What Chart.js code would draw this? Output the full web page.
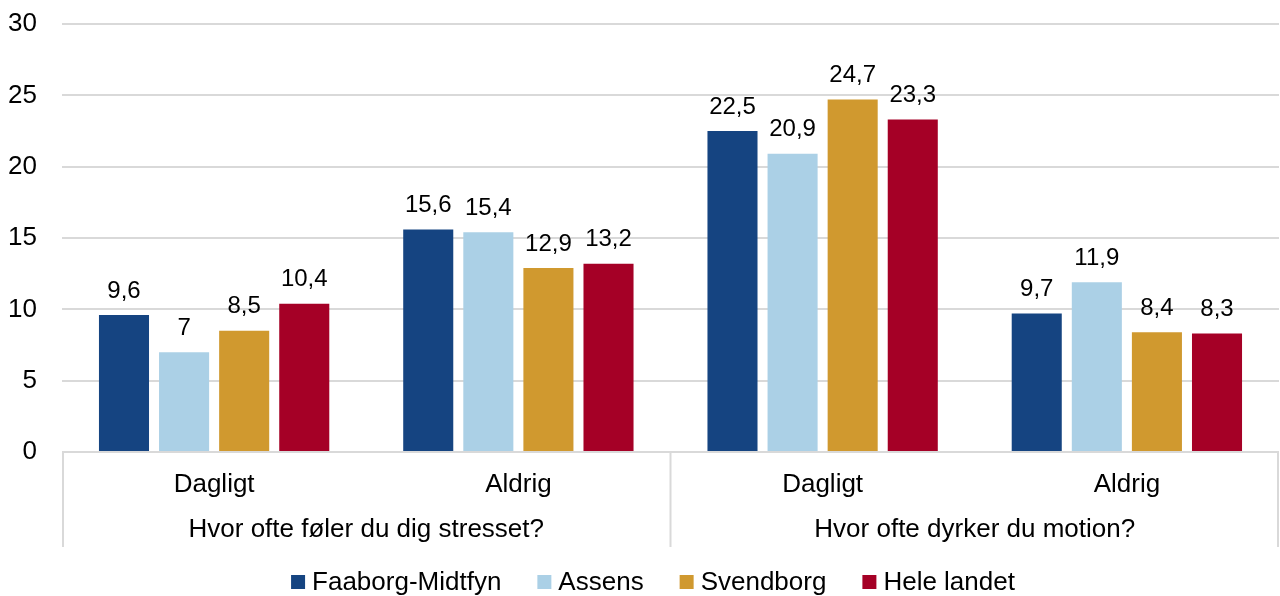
<!DOCTYPE html>
<html>
<head>
<meta charset="utf-8">
<script src="https://cdn.jsdelivr.net/npm/chart.js@4"></script>
<style>
  html, body { margin: 0; padding: 0; background: #fff; }
  #wrap { width: 1280px; height: 596px; }
</style>
</head>
<body>
<div id="wrap"><canvas id="chart" width="1280" height="596"></canvas></div>
<script>
// ---- data
const categories = ['Dagligt', 'Aldrig', 'Dagligt', 'Aldrig'];
const groupLabels = ['Hvor ofte føler du dig stresset?', 'Hvor ofte dyrker du motion?'];
const seriesNames = ['Faaborg-Midtfyn', 'Assens', 'Svendborg', 'Hele landet'];
const faaborg = [9.6, 15.6, 22.5, 9.7];
const assens = [7, 15.4, 20.9, 11.9];
const svendborg = [8.5, 12.9, 24.7, 8.4];
const heleLandet = [10.4, 13.2, 23.3, 8.3];
const yTicks = [0, 5, 10, 15, 20, 25, 30];

const colors = ['#154481', '#abd0e6', '#d0992f', '#a50026'];
const FONT = "'Liberation Sans', Arial, sans-serif";
const lineCol = '#d9d9d9';

// labels above bars, two-level category axis, legend
const extras = {
    id: 'extras',
    afterDatasetsDraw(chart) {
        const ctx = chart.ctx;
        ctx.save();
        ctx.font = '24px ' + FONT;
        ctx.fillStyle = '#000';
        ctx.textAlign = 'center';
        ctx.textBaseline = 'middle';
        chart.data.datasets.forEach((ds, i) => {
            chart.getDatasetMeta(i).data.forEach((bar, j) => {
                let txt = String(ds.data[j]).replace('.', ',');
                ctx.fillText(txt, bar.x, bar.y - 24);
            });
        });
        ctx.restore();
    },
    afterDraw(chart) {
        const ctx = chart.ctx;
        const area = chart.chartArea;
        const x = chart.scales.x;
        const y0 = area.bottom;
        ctx.save();
        ctx.strokeStyle = lineCol;
        ctx.lineWidth = 2;
        ctx.beginPath();
        ctx.moveTo(area.left, y0);
        ctx.lineTo(area.right, y0);
        let mid = (x.getPixelForValue(1) + x.getPixelForValue(2)) / 2;
        [area.left + 1, mid, area.right - 1].forEach(px => {
            ctx.moveTo(px, y0);
            ctx.lineTo(px, y0 + 95);
        });
        ctx.stroke();

        ctx.fillStyle = '#000';
        ctx.font = '26px ' + FONT;
        ctx.textAlign = 'center';
        ctx.textBaseline = 'middle';
        categories.forEach((c, i) => {
            ctx.fillText(c, x.getPixelForValue(i), y0 + 33);
        });
        ctx.fillText(groupLabels[0], (area.left + mid) / 2, y0 + 78);
        ctx.fillText(groupLabels[1], (mid + area.right) / 2, y0 + 78);

        // legend, Excel style spacing
        const box = 14, gapText = 7, gapItem = 36;
        let widths = seriesNames.map(s => box + gapText + ctx.measureText(s).width);
        let total = widths.reduce((a, b) => a + b, 0) + gapItem * (seriesNames.length - 1);
        let lx = (chart.width - total) / 2 + 13;
        const ly = 582;
        ctx.textAlign = 'left';
        seriesNames.forEach((s, i) => {
            ctx.fillStyle = colors[i];
            ctx.fillRect(lx, ly - box / 2, box, box);
            ctx.fillStyle = '#000';
            ctx.fillText(s, lx + box + gapText, ly + 1);
            lx += widths[i] + gapItem;
        });
        ctx.restore();
    }
};

const allSeries = [faaborg, assens, svendborg, heleLandet];

new Chart(document.getElementById('chart'), {
    type: 'bar',
    data: {
        labels: categories,
        datasets: allSeries.map((d, i) => ({
            label: seriesNames[i],
            data: d,
            backgroundColor: colors[i],
            categoryPercentage: 0.79,
            barPercentage: 0.833
        }))
    },
    options: {
        responsive: false,
        animation: false,
        layout: { padding: { top: 24, right: 1, left: 0, bottom: 36 } },
        scales: {
            x: {
                grid: { display: false },
                border: { display: false },
                ticks: { display: false },
                afterFit(scale) { scale.height = 108; }
            },
            y: {
                min: 0,
                max: 30,
                afterBuildTicks(scale) { scale.ticks = yTicks.map(v => ({ value: v })); },
                afterFit(scale) {
                    scale.width = 62;
                    scale.paddingTop = 0;
                    scale.paddingBottom = 0;
                },
                grid: { color: lineCol, lineWidth: 2, drawTicks: false },
                border: { display: false },
                ticks: {
                    color: '#000',
                    padding: 25,
                    font: { family: FONT, size: 26 }
                }
            }
        },
        plugins: {
            tooltip: { enabled: false },
            legend: { display: false }
        }
    },
    plugins: [extras]
});
</script>
</body>
</html>
